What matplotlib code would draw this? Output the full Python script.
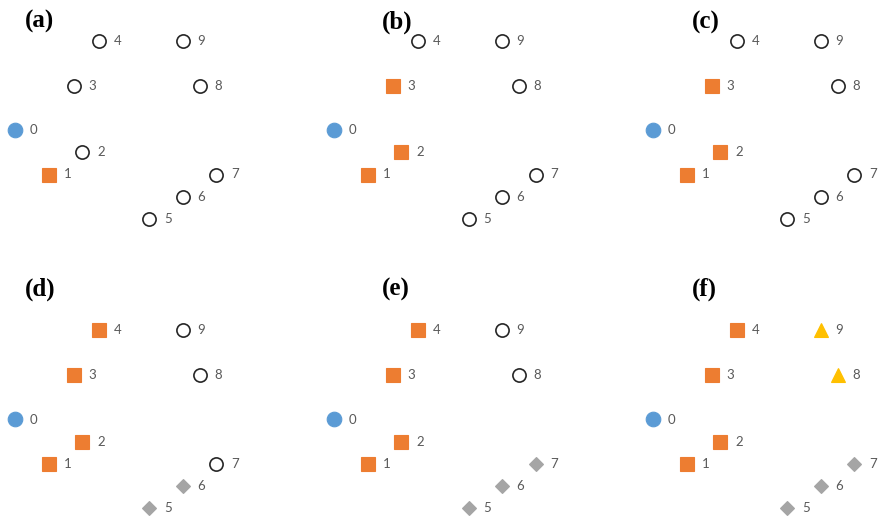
import matplotlib.pyplot as plt

# node layout (grid units) and labels
node_ids = [0, 1, 2, 3, 4, 5, 6, 7, 8, 9]
node_x = [0, 1, 2, 1.75, 2.5, 4, 5, 6, 5.5, 5]
node_y = [4, 2, 3, 6, 8, 0, 1, 2, 6, 8]

panel_names = ['(a)', '(b)', '(c)', '(d)', '(e)', '(f)']

# state of every node in each panel
# s = source, v = visited, g = grey group, y = yellow group, o = open
panel_states = [
    ['s', 'v', 'o', 'o', 'o', 'o', 'o', 'o', 'o', 'o'],
    ['s', 'v', 'v', 'v', 'o', 'o', 'o', 'o', 'o', 'o'],
    ['s', 'v', 'v', 'v', 'o', 'o', 'o', 'o', 'o', 'o'],
    ['s', 'v', 'v', 'v', 'v', 'g', 'g', 'o', 'o', 'o'],
    ['s', 'v', 'v', 'v', 'v', 'g', 'g', 'g', 'o', 'o'],
    ['s', 'v', 'v', 'v', 'v', 'g', 'g', 'g', 'y', 'y'],
]

styles = {
    's': dict(marker='o', ms=10.5, mfc='#5B9BD5', mec='#5B9BD5', mew=0.8),
    'v': dict(marker='s', ms=9.5, mfc='#ED7D31', mec='#ED7D31', mew=0.8),
    'g': dict(marker='D', ms=7.0, mfc='#A5A5A5', mec='#A5A5A5', mew=0.8),
    'y': dict(marker='^', ms=10.5, mfc='#FFC000', mec='#FFC000', mew=0.8),
    'o': dict(marker='o', ms=9.5, mfc='white', mec='#262626', mew=1.2),
}

W, H = 879, 516
fig = plt.figure(figsize=(W / 100, H / 100), dpi=100, facecolor='white')

ux, uy = 33.5, 22.25          # pixels per grid unit
x0, y0 = 15.5, 219            # pixel of grid origin in panel (a)
col_off = [0, 319, 638]
row_off = [0, 289.5]
xlim = (-0.6, 6.9)
ylim = (-1.0, 9.0)

label_pos = [(25, 21), (382, 22), (692, 22), (25, 289), (382, 289), (692, 289)]

for k, states in enumerate(panel_states):
    ox = col_off[k % 3]
    oy = row_off[k // 3]
    left = x0 + ox + xlim[0] * ux
    width = (xlim[1] - xlim[0]) * ux
    bottom_from_top = y0 + oy - ylim[0] * uy
    height = (ylim[1] - ylim[0]) * uy
    ax = fig.add_axes([left / W, 1 - bottom_from_top / H, width / W, height / H])
    ax.set_xlim(*xlim)
    ax.set_ylim(*ylim)
    ax.axis('off')
    for i, st in zip(node_ids, states):
        ax.plot(node_x[i], node_y[i], linestyle='none', **styles[st])
        ax.annotate(str(i), (node_x[i], node_y[i]), xytext=(10.5, 0),
                    textcoords='offset points', ha='left', va='center',
                    fontsize=9.5, color='#595959', family='Lato')
    lx, ly = label_pos[k]
    fig.text(lx / W, 1 - ly / H, panel_names[k], ha='left', va='center',
             fontsize=18, fontweight='bold', family='Liberation Serif')

fig.savefig('out.png', dpi=100, facecolor='white')
